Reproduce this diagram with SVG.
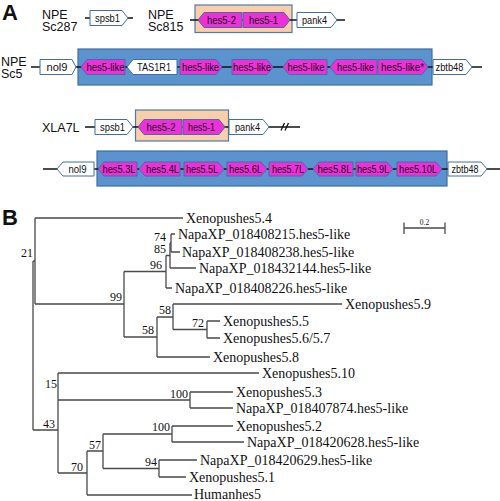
<svg xmlns="http://www.w3.org/2000/svg" width="500" height="501" viewBox="0 0 500 501">
<style>
.lbl{font-family:"Liberation Sans",Arial,sans-serif;font-size:12.5px;fill:#111}
.big{font-family:"Liberation Sans",Arial,sans-serif;font-size:22px;font-weight:bold;fill:#111}
.gt{font-family:"Liberation Sans",Arial,sans-serif;font-size:11px;fill:#111;text-anchor:middle}
.mag{fill:#ee30d8;stroke:#3f6fa5;stroke-width:1}
.wht{fill:#fff;stroke:#3f6fa5;stroke-width:1}
.blu{fill:#5b93cf;stroke:#3e6d9e;stroke-width:1.2}
.pch{fill:#f9cea8;stroke:#4a7bb0;stroke-width:1.2}
.bb{stroke:#111;stroke-width:1.3;fill:none}
.br{stroke:#4a4a4a;stroke-width:1.3;fill:none}
.leaf{font-family:"Liberation Serif","Times New Roman",serif;font-size:14px;fill:#111}
.bs{font-family:"Liberation Serif","Times New Roman",serif;font-size:12px;fill:#111;text-anchor:end}
</style>
<rect width="500" height="501" fill="#fff"/>

<!-- Panel letters -->
<text class="big" x="2" y="20">A</text>
<text class="big" x="2" y="225">B</text>

<g id="labels-A">
<text class="lbl" x="42" y="18.5">NPE</text><text class="lbl" x="42" y="31">Sc287</text>
<text class="lbl" x="148" y="18.5">NPE</text><text class="lbl" x="148" y="31">Sc815</text>
<text class="lbl" x="1" y="65.5">NPE</text><text class="lbl" x="1" y="78">Sc5</text>
<text class="lbl" x="42" y="132">XLA7L</text>
</g>

<g id="clusters">
<rect id="peach1" class="pch" x="195" y="5" width="97" height="27.5"/>
<rect id="blue1" class="blu" x="78" y="49" width="354" height="36"/>
<rect id="peach2" class="pch" x="135.5" y="110" width="93" height="31"/>
<rect id="blue2" class="blu" x="97" y="151" width="350" height="35"/>
</g>

<g id="connectors-A">
<path class="bb" d="M85,18H133"/>
<path class="bb" d="M190,20H345"/>
<path class="bb" d="M31,67H482"/>
<path class="bb" d="M85,127H300"/>
<path class="bb" d="M281,130.5L284.5,123M285,130.5L288.5,123" stroke-width="0.9"/>
<path class="bb" d="M43,169H500"/>
</g>

<!-- Row 1 -->
<g id="g-spsb1-a"><polygon class="wht" points="90,10.5 122,10.5 128,18 122,25.5 90,25.5"/><text class="gt" x="107.5" y="22" textLength="25" lengthAdjust="spacingAndGlyphs">spsb1</text></g>
<g id="g-hes52-a"><polygon class="mag" points="242,12.5 204,12.5 198,20 204,27.5 242,27.5"/><text class="gt" x="221.5" y="24" textLength="29" lengthAdjust="spacingAndGlyphs">hes5-2</text></g>
<g id="g-hes51-a"><polygon class="mag" points="243,12.5 284,12.5 290,20 284,27.5 243,27.5"/><text class="gt" x="263.5" y="24" textLength="29" lengthAdjust="spacingAndGlyphs">hes5-1</text></g>
<g id="g-pank4-a"><polygon class="wht" points="297,12.5 331,12.5 337,20 331,27.5 297,27.5"/><text class="gt" x="314.5" y="24" textLength="25" lengthAdjust="spacingAndGlyphs">pank4</text></g>

<!-- Row 2 -->
<g id="g-nol9-a"><polygon class="wht" points="40,59.5 72,59.5 76,67 72,74.5 40,74.5"/><text class="gt" x="57" y="71" textLength="21" lengthAdjust="spacingAndGlyphs">nol9</text></g>
<g id="g-hl1"><polygon class="mag" points="125,59.5 87,59.5 81,67 87,74.5 125,74.5"/><text class="gt" x="105.5" y="71" textLength="38" lengthAdjust="spacingAndGlyphs">hes5-like</text></g>
<g id="g-tas1r1"><polygon class="wht" points="177,59.5 133,59.5 127,67 133,74.5 177,74.5"/><text class="gt" x="154" y="71" textLength="34" lengthAdjust="spacingAndGlyphs">TAS1R1</text></g>
<g id="g-hl2"><polygon class="mag" points="180,59.5 216,59.5 222,67 216,74.5 180,74.5"/><text class="gt" x="200.5" y="71" textLength="37" lengthAdjust="spacingAndGlyphs">hes5-like</text></g>
<g id="g-hl3"><polygon class="mag" points="232,59.5 267,59.5 273,67 267,74.5 232,74.5"/><text class="gt" x="252" y="71" textLength="38" lengthAdjust="spacingAndGlyphs">hes5-like</text></g>
<g id="g-hl4"><polygon class="mag" points="327,59.5 289,59.5 283,67 289,74.5 327,74.5"/><text class="gt" x="306" y="71" textLength="37" lengthAdjust="spacingAndGlyphs">hes5-like</text></g>
<g id="g-hl5"><polygon class="mag" points="377,59.5 336,59.5 330,67 336,74.5 377,74.5"/><text class="gt" x="355.5" y="71" textLength="37" lengthAdjust="spacingAndGlyphs">hes5-like</text></g>
<g id="g-hl6"><polygon class="mag" points="378,59.5 422,59.5 428,67 422,74.5 378,74.5"/><text class="gt" x="402.5" y="71" textLength="43" lengthAdjust="spacingAndGlyphs">hes5-like*</text></g>
<g id="g-zbtb48-a"><polygon class="wht" points="433,59.5 466,59.5 472,67 466,74.5 433,74.5"/><text class="gt" x="449.5" y="71" textLength="28" lengthAdjust="spacingAndGlyphs">zbtb48</text></g>

<!-- Row 3 -->
<g id="g-spsb1-b"><polygon class="wht" points="95,119.5 127,119.5 133,127 127,134.5 95,134.5"/><text class="gt" x="112.5" y="131" textLength="25" lengthAdjust="spacingAndGlyphs">spsb1</text></g>
<g id="g-hes52-b"><polygon class="mag" points="182,119.5 144,119.5 138,127 144,134.5 182,134.5"/><text class="gt" x="161" y="131" textLength="29" lengthAdjust="spacingAndGlyphs">hes5-2</text></g>
<g id="g-hes51-b"><polygon class="mag" points="183,119.5 219,119.5 225,127 219,134.5 183,134.5"/><text class="gt" x="201.5" y="131" textLength="27" lengthAdjust="spacingAndGlyphs">hes5-1</text></g>
<g id="g-pank4-b"><polygon class="wht" points="229,119.5 263,119.5 269,127 263,134.5 229,134.5"/><text class="gt" x="247.5" y="131" textLength="25" lengthAdjust="spacingAndGlyphs">pank4</text></g>

<!-- Row 4 -->
<g id="g-nol9-b"><polygon class="wht" points="94,162 63,162 57,169 63,176 94,176"/><text class="gt" x="77.5" y="173" textLength="18" lengthAdjust="spacingAndGlyphs">nol9</text></g>
<g id="g-h53"><polygon class="mag" points="137,162 104,162 98,169 104,176 137,176"/><text class="gt" x="119" y="173" textLength="33" lengthAdjust="spacingAndGlyphs">hes5.3L</text></g>
<g id="g-h54"><polygon class="mag" points="180,162 145,162 139,169 145,176 180,176"/><text class="gt" x="162.5" y="173" textLength="33" lengthAdjust="spacingAndGlyphs">hes5.4L</text></g>
<g id="g-h55"><polygon class="mag" points="184,162 218,162 224,169 218,176 184,176"/><text class="gt" x="202" y="173" textLength="32" lengthAdjust="spacingAndGlyphs">hes5.5L</text></g>
<g id="g-h56"><polygon class="mag" points="227,162 261,162 267,169 261,176 227,176"/><text class="gt" x="245.5" y="173" textLength="33" lengthAdjust="spacingAndGlyphs">hes5.6L</text></g>
<g id="g-h57"><polygon class="mag" points="269,162 302,162 308,169 302,176 269,176"/><text class="gt" x="288" y="173" textLength="32" lengthAdjust="spacingAndGlyphs">hes5.7L</text></g>
<g id="g-h58"><polygon class="mag" points="353,162 319,162 313,169 319,176 353,176"/><text class="gt" x="334.5" y="173" textLength="34" lengthAdjust="spacingAndGlyphs">hes5.8L</text></g>
<g id="g-h59"><polygon class="mag" points="356,162 387,162 393,169 387,176 356,176"/><text class="gt" x="373" y="173" textLength="32" lengthAdjust="spacingAndGlyphs">hes5.9L</text></g>
<g id="g-h510"><polygon class="mag" points="397,162 436,162 442,169 436,176 397,176"/><text class="gt" x="418" y="173" textLength="38" lengthAdjust="spacingAndGlyphs">hes5.10L</text></g>
<g id="g-zbtb48-b"><polygon class="wht" points="448,162 481,162 487,169 481,176 448,176"/><text class="gt" x="465" y="173" textLength="27" lengthAdjust="spacingAndGlyphs">zbtb48</text></g>

<!-- Panel B: tree branches -->
<g id="connectors-B">
<path class="br" d="M33,261V430M33,261H35M33,430H58"/>
<path class="br" d="M35,218V304M35,218H183M35,304H124"/>
<path class="br" d="M124,271.5V337M124,271.5H166M124,337H157"/>
<path class="br" d="M166,255.5V288M166,255.5H170M166,288H172"/>
<path class="br" d="M170,243V268M170,243H171M170,268H196"/>
<path class="br" d="M171,234V252M171,234H175M171,252H180"/>
<path class="br" d="M157,317V357M157,317H173M157,357H210"/>
<path class="br" d="M173,304V329.5M173,304H342M173,329.5H207"/>
<path class="br" d="M207,321V338M207,321H220M207,338H220"/>
<path class="br" d="M58,373V473M58,373H259M58,400H190"/>
<path class="br" d="M190,392V408M190,392H233M190,408H233"/>
<path class="br" d="M58,473H87M87,451V495M87,451H103M87,495H192"/>
<path class="br" d="M103,434V468.5M103,434H172M103,468.5H159"/>
<path class="br" d="M172,426V442M172,426H233M172,442H244"/>
<path class="br" d="M159,460V477M159,460H197M159,477H186"/>
<path class="br" d="M404,228H445M404,222.5V234M445,222.5V234" stroke-width="1"/>
</g>
<text id="scale-label" x="424.5" y="225" font-family="Liberation Serif,serif" font-size="7.5" text-anchor="middle" fill="#111">0.2</text>

<g id="leaves">
<text id="l1" class="leaf" x="186" y="223">Xenopushes5.4</text>
<text id="l2" class="leaf" x="178" y="239">NapaXP_018408215.hes5-like</text>
<text id="l3" class="leaf" x="182" y="257">NapaXP_018408238.hes5-like</text>
<text id="l4" class="leaf" x="199" y="273">NapaXP_018432144.hes5-like</text>
<text id="l5" class="leaf" x="175" y="293">NapaXP_018408226.hes5-like</text>
<text id="l6" class="leaf" x="345" y="309">Xenopushes5.9</text>
<text id="l7" class="leaf" x="223" y="326">Xenopushes5.5</text>
<text id="l8" class="leaf" x="223" y="343">Xenopushes5.6/5.7</text>
<text id="l9" class="leaf" x="213" y="362">Xenopushes5.8</text>
<text id="l10" class="leaf" x="262" y="378">Xenopushes5.10</text>
<text id="l11" class="leaf" x="236" y="397">Xenopushes5.3</text>
<text id="l12" class="leaf" x="236" y="413">NapaXP_018407874.hes5-like</text>
<text id="l13" class="leaf" x="236" y="431">Xenopushes5.2</text>
<text id="l14" class="leaf" x="247" y="447">NapaXP_018420628.hes5-like</text>
<text id="l15" class="leaf" x="200" y="465">NapaXP_018420629.hes5-like</text>
<text id="l16" class="leaf" x="189" y="482">Xenopushes5.1</text>
<text id="l17" class="leaf" x="194" y="499">Humanhes5</text>
</g>

<g id="bootstrap">
<text class="bs" x="33" y="257">21</text>
<text class="bs" x="166" y="241">74</text>
<text class="bs" x="166" y="253">85</text>
<text class="bs" x="162" y="269">96</text>
<text class="bs" x="122" y="301">99</text>
<text class="bs" x="171" y="314">58</text>
<text class="bs" x="204" y="327">72</text>
<text class="bs" x="154" y="334">58</text>
<text class="bs" x="57" y="388">15</text>
<text class="bs" x="188" y="398">100</text>
<text class="bs" x="55" y="428">43</text>
<text class="bs" x="170" y="431">100</text>
<text class="bs" x="101" y="449">57</text>
<text class="bs" x="157" y="466">94</text>
<text class="bs" x="83" y="471">70</text>
</g>
</svg>
